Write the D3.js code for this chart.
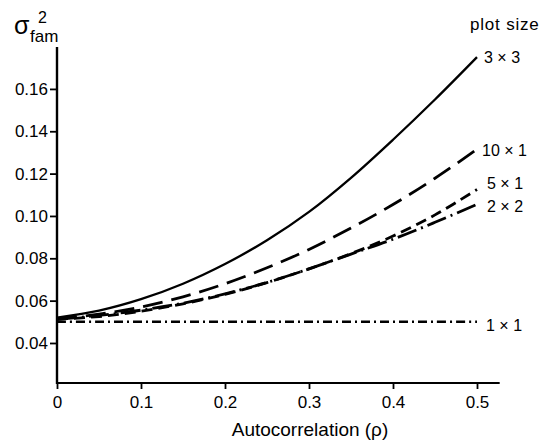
<!DOCTYPE html>
<html><head><meta charset="utf-8">
<script src="https://cdn.jsdelivr.net/npm/d3@7"></script>
<style>
body{margin:0;background:#fff;}
text{font-family:"Liberation Sans",Arial,sans-serif;fill:#000;}
</style></head>
<body>
<svg id="chart" width="553" height="443"></svg>
<script>
const rho = [0, 0.05, 0.1, 0.15, 0.2, 0.25, 0.3, 0.35, 0.4, 0.45, 0.5];
const s3x3  = [0.052, 0.0553, 0.0607, 0.068, 0.0773, 0.0885, 0.1019, 0.118, 0.136, 0.155, 0.175];
const s10x1 = [0.0515, 0.0536, 0.057, 0.0618, 0.068, 0.0755, 0.0842, 0.0943, 0.1054, 0.1178, 0.1315];
const s5x1  = [0.0512, 0.0525, 0.055, 0.0585, 0.063, 0.0685, 0.075, 0.0822, 0.0905, 0.1005, 0.1125];
const s2x2  = [0.0512, 0.053, 0.0555, 0.0588, 0.0632, 0.0686, 0.075, 0.082, 0.089, 0.097, 0.1055];
const s1x1  = [0.05, 0.05, 0.05, 0.05, 0.05, 0.05, 0.05, 0.05, 0.05, 0.05, 0.05];
const seriesNames = ["3 × 3", "10 × 1", "5 × 1", "2 × 2", "1 × 1"];
const xTicks = [0, 0.1, 0.2, 0.3, 0.4, 0.5];
const xTickLabels = ["0", "0.1", "0.2", "0.3", "0.4", "0.5"];
const yTicks = [0.04, 0.06, 0.08, 0.10, 0.12, 0.14, 0.16];
const yTickLabels = ["0.04", "0.06", "0.08", "0.10", "0.12", "0.14", "0.16"];

const svg = d3.select("#chart");
const x = d3.scaleLinear().domain([0, 0.5]).range([57, 477]);
const y = d3.scaleLinear().domain([0.0211, 0.1798]).range([383, 47]);

// axes
const xAxis = d3.axisBottom(x).tickValues(xTicks).tickFormat((d,i)=>xTickLabels[i]).tickSize(6).tickPadding(7).tickSizeOuter(0);
const gx = svg.append("g").attr("transform","translate(0,383)").call(xAxis);
gx.select(".domain").remove();
gx.selectAll(".tick line").attr("stroke","#000").attr("stroke-width",1.8);
gx.selectAll(".tick text").style("font-size","17px").attr("font-family","Liberation Sans, Arial, sans-serif");
svg.append("line").attr("x1",x(0)).attr("x2",x(0.527)).attr("y1",383).attr("y2",383).attr("stroke","#000").attr("stroke-width",2.2);

const yAxis = d3.axisLeft(y).tickValues(yTicks).tickFormat((d,i)=>yTickLabels[i]).tickSize(7).tickPadding(2).tickSizeOuter(0);
const gy = svg.append("g").attr("transform","translate(57,0)").call(yAxis);
gy.select(".domain").remove();
gy.selectAll(".tick line").attr("stroke","#000").attr("stroke-width",1.8);
gy.selectAll(".tick text").style("font-size","17px").attr("font-family","Liberation Sans, Arial, sans-serif");
svg.append("line").attr("x1",57).attr("x2",57).attr("y1",y(0.1798)).attr("y2",384).attr("stroke","#000").attr("stroke-width",2.4);

// series
const line = d3.line().x((d,i)=>x(rho[i])).y(d=>y(d)).curve(d3.curveCatmullRom);
const series = [
  {v:s3x3, dash:null, w:2.3},
  {v:s10x1, dash:"20,9", w:2.8},
  {v:s5x1, dash:"11,6", w:2.8},
  {v:s2x2, dash:"20,5,2,5", w:2.8},
  {v:s1x1, dash:"9,4,2,4", w:2.6}
];
series.forEach(s=>{
  svg.append("path").datum(s.v).attr("d",line).attr("fill","none").attr("stroke","#000")
    .attr("stroke-width",s.w).attr("stroke-dasharray",s.dash);
});

// labels
const labelPos = [[484,63],[482,156],[487,189],[487,212],[486,331]];
seriesNames.forEach((n,i)=>{
  svg.append("text").attr("x",labelPos[i][0]).attr("y",labelPos[i][1]).style("font-size","16px").text(n);
});
svg.append("text").attr("x",470).attr("y",30).style("font-size","17px").style("letter-spacing","0.8px").text("plot size");

// y label
const yl = svg.append("text").attr("x",14).attr("y",34).style("font-size","25px");
yl.append("tspan").text("σ");
svg.append("text").attr("x",38).attr("y",23).style("font-size","16px").text("2");
svg.append("text").attr("x",30).attr("y",42).style("font-size","17px").text("fam");

// x title
svg.append("text").attr("x",310).attr("y",436).attr("text-anchor","middle").style("font-size","19px").text("Autocorrelation (ρ)");
</script>
</body></html>
